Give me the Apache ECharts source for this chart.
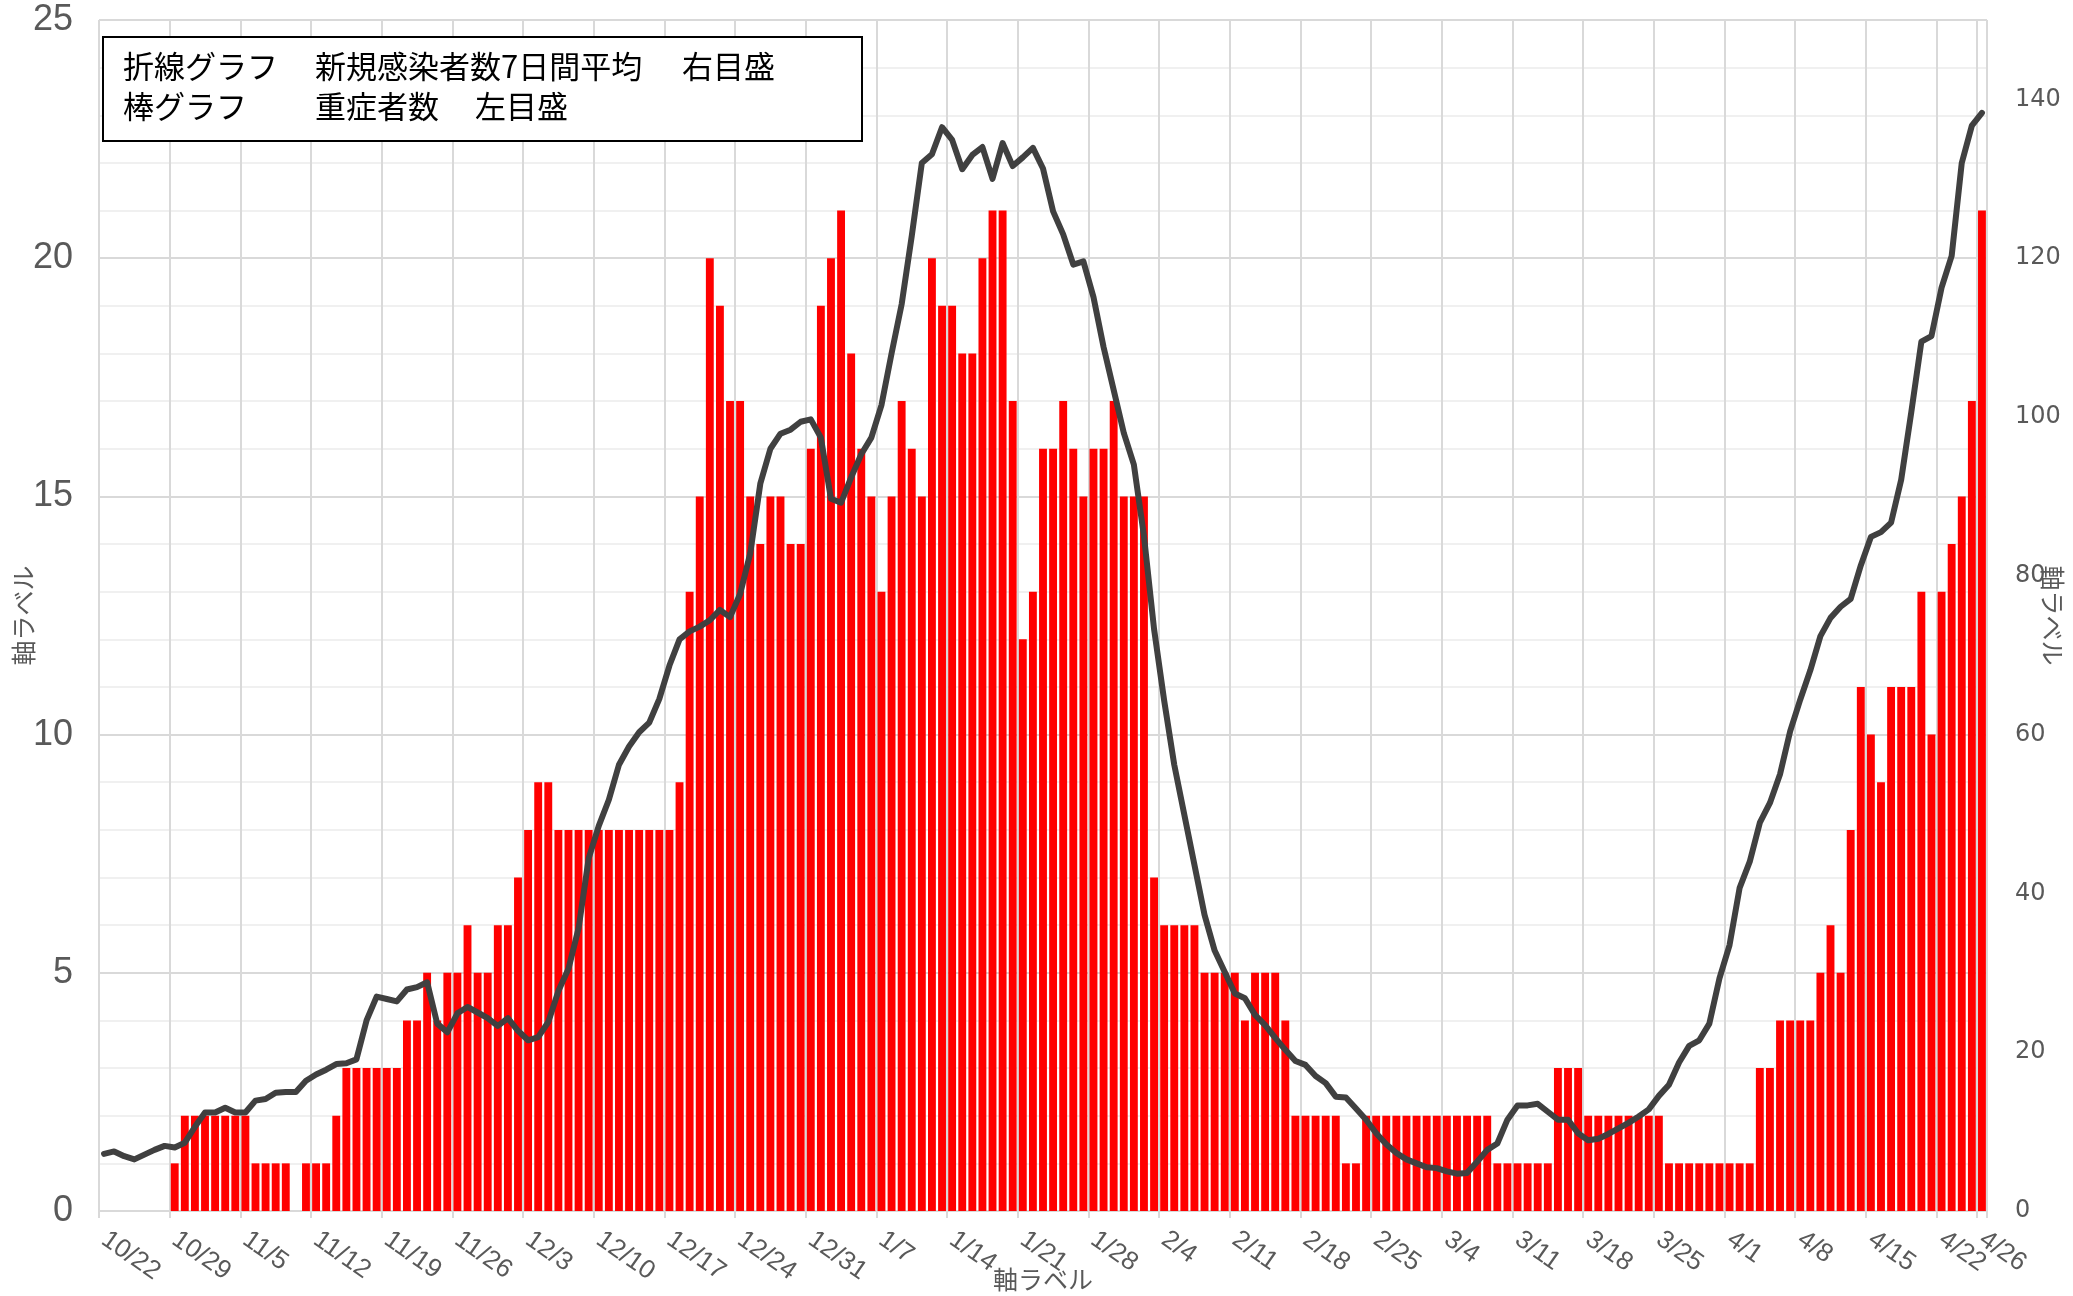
<!DOCTYPE html>
<html>
<head>
<meta charset="utf-8">
<script src="https://cdn.jsdelivr.net/npm/echarts@6/dist/echarts.min.js"></script>
<style>
html,body{margin:0;padding:0;background:#fff;}
#chart{width:2073px;height:1296px;}
</style>
</head>
<body>
<div id="chart"></div>
<script>
const categories = [
'10/22','10/23','10/24','10/25','10/26','10/27','10/28','10/29','10/30','10/31',
'11/1','11/2','11/3','11/4','11/5','11/6','11/7','11/8','11/9','11/10','11/11','11/12','11/13','11/14','11/15','11/16','11/17','11/18','11/19','11/20','11/21','11/22','11/23','11/24','11/25','11/26','11/27','11/28','11/29','11/30',
'12/1','12/2','12/3','12/4','12/5','12/6','12/7','12/8','12/9','12/10','12/11','12/12','12/13','12/14','12/15','12/16','12/17','12/18','12/19','12/20','12/21','12/22','12/23','12/24','12/25','12/26','12/27','12/28','12/29','12/30','12/31',
'1/1','1/2','1/3','1/4','1/5','1/6','1/7','1/8','1/9','1/10','1/11','1/12','1/13','1/14','1/15','1/16','1/17','1/18','1/19','1/20','1/21','1/22','1/23','1/24','1/25','1/26','1/27','1/28','1/29','1/30','1/31',
'2/1','2/2','2/3','2/4','2/5','2/6','2/7','2/8','2/9','2/10','2/11','2/12','2/13','2/14','2/15','2/16','2/17','2/18','2/19','2/20','2/21','2/22','2/23','2/24','2/25','2/26','2/27','2/28',
'3/1','3/2','3/3','3/4','3/5','3/6','3/7','3/8','3/9','3/10','3/11','3/12','3/13','3/14','3/15','3/16','3/17','3/18','3/19','3/20','3/21','3/22','3/23','3/24','3/25','3/26','3/27','3/28','3/29','3/30','3/31',
'4/1','4/2','4/3','4/4','4/5','4/6','4/7','4/8','4/9','4/10','4/11','4/12','4/13','4/14','4/15','4/16','4/17','4/18','4/19','4/20','4/21','4/22','4/23','4/24','4/25','4/26'
];

// 重症者数 (left axis)
const severeCases = [
0,0,0,0,0,0,0,1,2,2,
2,2,2,2,2,1,1,1,1,0,
1,1,1,2,3,3,3,3,3,3,
4,4,5,4,5,5,6,5,5,6,
6,7,8,9,9,8,8,8,8,8,
8,8,8,8,8,8,8,9,13,15,
20,19,17,17,15,14,15,15,14,14,
16,19,20,21,18,16,15,13,15,17,
16,15,20,19,19,18,18,20,21,21,
17,12,13,16,16,17,16,15,16,16,
17,15,15,15,7,6,6,6,6,5,
5,5,5,4,5,5,5,4,2,2,
2,2,2,1,1,2,2,2,2,2,
2,2,2,2,2,2,2,2,1,1,
1,1,1,1,3,3,3,2,2,2,
2,2,2,2,2,1,1,1,1,1,
1,1,1,1,3,3,4,4,4,4,
5,6,5,8,11,10,9,11,11,11,
13,10,13,14,15,17,21
];

// 新規感染者数7日間平均 (right axis)
const newCases7dAvg = [
7.2,7.5,6.9,6.5,7.1,7.7,8.2,8.0,8.6,10.6,
12.4,12.4,13.0,12.4,12.4,13.9,14.1,14.9,15.0,15.0,
16.4,17.2,17.8,18.5,18.6,19.1,24.0,27.0,26.7,26.4,
27.9,28.2,28.8,23.6,22.5,24.9,25.7,25.0,24.3,23.3,
24.3,22.7,21.5,21.9,23.8,27.7,30.5,35.6,44.4,48.5,
51.8,56.2,58.5,60.3,61.5,64.5,68.7,72.0,73.0,73.6,
74.4,75.7,74.8,77.7,82.8,91.6,96.0,97.9,98.4,99.4,
99.7,97.4,89.7,89.2,92.4,95.3,97.4,101.5,108.0,114.2,
122.8,132.0,133.1,136.5,134.9,131.2,133.0,134.0,130.0,134.5,
131.6,132.7,133.9,131.3,125.9,123.0,119.2,119.6,115.1,108.8,
103.4,98.0,94.0,85.0,73.3,64.3,56.2,49.9,43.6,37.3,
32.8,30.1,27.4,26.8,24.7,23.4,21.8,20.3,18.9,18.4,
17.0,16.1,14.4,14.3,12.9,11.5,9.8,8.4,7.3,6.5,
6.0,5.5,5.4,5.0,4.7,4.8,6.2,7.7,8.5,11.5,
13.3,13.3,13.5,12.5,11.5,11.5,9.8,8.9,9.1,9.7,
10.4,11.1,11.9,12.8,14.5,15.9,18.7,20.8,21.5,23.6,
29.3,33.5,40.7,44.0,48.9,51.4,55.0,60.4,64.4,68.1,
72.4,74.7,76.1,77.1,81.3,84.9,85.5,86.7,92.1,100.6,
109.5,110.2,116.3,120.3,132.0,136.7,138.3
];

const axisName = '軸ラベル';
const noteLine1 = ['折線グラフ', '新規感染者数7日間平均', '右目盛'];
const noteLine2 = ['棒グラフ', '重症者数', '左目盛'];

const GRAY = '#595959';
const GRID = '#d9d9d9';
const NARROW = "'Liberation Sans Narrow', 'Liberation Sans', sans-serif";
const CJK = "'Noto Sans CJK JP', sans-serif";

const chart = echarts.init(document.getElementById('chart'), null, {renderer: 'canvas'});

const xLabelStyle = {rotate: -35, margin: 26, color: GRAY, fontFamily: NARROW, fontSize: 26};
const noteFont = "31px 'Noto Sans CJK JP', sans-serif";
const lastIdx = categories.length - 1;
const option = {
  animation: false,
  backgroundColor: '#ffffff',
  grid: {left: 99, right: 86, top: 20, bottom: 85, containLabel: false, outerBoundsMode: 'none'},
  xAxis: [
    {
      type: 'category',
      data: categories,
      boundaryGap: true,
      axisLine: {show: true, lineStyle: {color: GRID, width: 2}},
      axisTick: {show: true, interval: 6, length: 7, lineStyle: {color: GRID, width: 2}},
      splitLine: {show: true, interval: 6, lineStyle: {color: GRID, width: 2}},
      axisLabel: Object.assign({
        interval: function (i) { return i % 7 === 0; },
        showMinLabel: true,
        showMaxLabel: true
      }, xLabelStyle),
      name: axisName,
      nameLocation: 'middle',
      nameGap: 56,
      nameMoveOverlap: false,
      nameTextStyle: {color: GRAY, fontFamily: CJK, fontSize: 25}
    },
    {
      type: 'category',
      data: categories,
      boundaryGap: true,
      position: 'bottom',
      axisLine: {show: false},
      axisTick: {show: false},
      splitLine: {show: false},
      axisLabel: Object.assign({
        interval: function (i) { return i === lastIdx; },
        showMinLabel: true,
        showMaxLabel: true
      }, xLabelStyle)
    }
  ],
  yAxis: [
    {
      type: 'value',
      position: 'left',
      min: 0, max: 25, interval: 5,
      axisLine: {show: false},
      axisTick: {show: false},
      axisLabel: {color: GRAY, fontFamily: NARROW, fontSize: 36, margin: 26},
      splitLine: {show: true, lineStyle: {color: GRID, width: 2}},
      minorTick: {show: false, splitNumber: 5},
      minorSplitLine: {show: true, lineStyle: {color: '#f0f0f0', width: 2}},
      name: axisName,
      nameLocation: 'middle',
      nameGap: 63,
      nameRotate: 90,
      nameMoveOverlap: false,
      nameTextStyle: {color: GRAY, fontFamily: CJK, fontSize: 25}
    },
    {
      type: 'value',
      position: 'right',
      min: 0, max: 150, interval: 20,
      axisLine: {show: false},
      axisTick: {show: false},
      axisLabel: {
        color: GRAY, fontFamily: "'DejaVu Sans', sans-serif", fontSize: 24, margin: 28,
        formatter: function (v) { return v > 140 ? '' : String(v); }
      },
      splitLine: {show: false},
      name: axisName,
      nameLocation: 'middle',
      nameGap: 53,
      nameRotate: -90,
      nameMoveOverlap: false,
      nameTextStyle: {color: GRAY, fontFamily: CJK, fontSize: 25}
    }
  ],
  series: [
    {
      name: '重症者数',
      type: 'bar',
      data: severeCases,
      xAxisIndex: 0,
      yAxisIndex: 0,
      barCategoryGap: '22%',
      itemStyle: {color: '#ff0000'},
      z: 2
    },
    {
      name: '新規感染者数7日間平均',
      type: 'line',
      data: newCases7dAvg,
      xAxisIndex: 0,
      yAxisIndex: 1,
      symbol: 'none',
      lineStyle: {color: '#404040', width: 6, cap: 'round', join: 'round'},
      z: 3
    }
  ],
  graphic: [
    {type: 'rect', left: 102, top: 36, z: 10,
     shape: {width: 759, height: 104},
     style: {fill: '#ffffff', stroke: '#000000', lineWidth: 2}},
    {type: 'text', x: 123, y: 66, z: 11, style: {text: noteLine1[0], font: noteFont, fill: '#000', verticalAlign: 'middle'}},
    {type: 'text', x: 315, y: 66, z: 11, style: {text: noteLine1[1], font: noteFont, fill: '#000', verticalAlign: 'middle'}},
    {type: 'text', x: 682, y: 66, z: 11, style: {text: noteLine1[2], font: noteFont, fill: '#000', verticalAlign: 'middle'}},
    {type: 'text', x: 123, y: 106, z: 11, style: {text: noteLine2[0], font: noteFont, fill: '#000', verticalAlign: 'middle'}},
    {type: 'text', x: 315, y: 106, z: 11, style: {text: noteLine2[1], font: noteFont, fill: '#000', verticalAlign: 'middle'}},
    {type: 'text', x: 475, y: 106, z: 11, style: {text: noteLine2[2], font: noteFont, fill: '#000', verticalAlign: 'middle'}}
  ]
};
chart.setOption(option);
</script>
</body>
</html>
